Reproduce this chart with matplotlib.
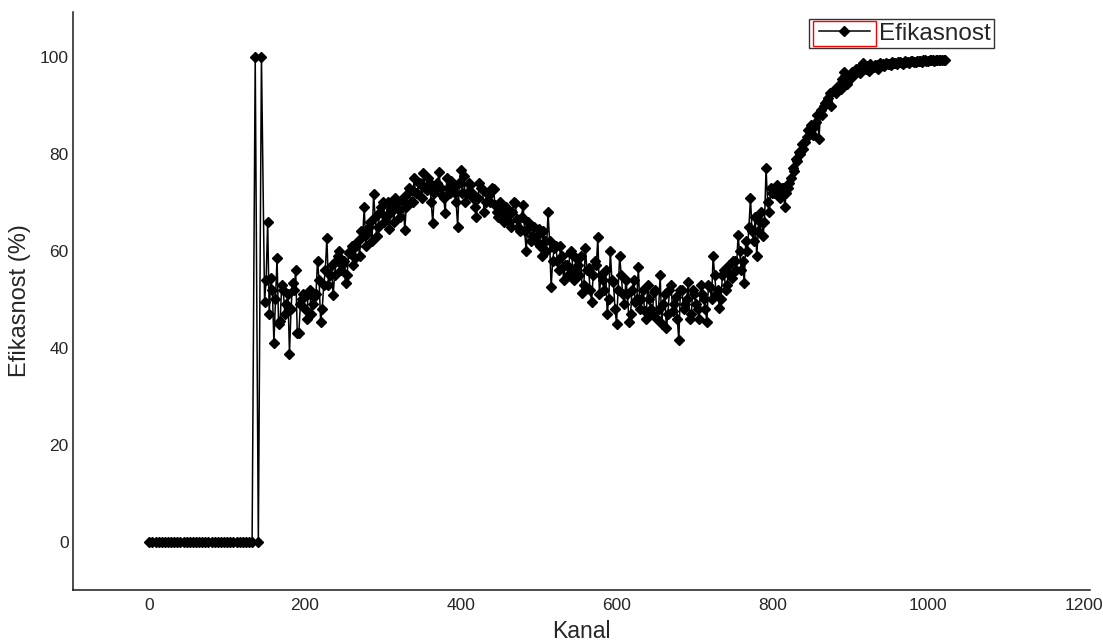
import numpy as np
import matplotlib
matplotlib.use("Agg")
import matplotlib.pyplot as plt
from matplotlib.patches import Rectangle
from matplotlib.legend_handler import HandlerLine2D

# ================================================================
# Daten
# ================================================================
# Messreihe A: Kanal 0, 4, 8, ... 1020
kanal_a = np.arange(0, 1024, 4)
efikasnost_a = [
    # 0 - 132
    0, 0, 0, 0, 0, 0, 0, 0, 0, 0, 0, 0, 0, 0, 0, 0, 0,
    0, 0, 0, 0, 0, 0, 0, 0, 0, 0, 0, 0, 0, 0, 0, 0, 0,
    # 136 - 196
    100, 0, 100, 49.5, 66, 54.5, 41, 58.5, 45.5, 52, 49, 38.8, 53.3, 56, 43, 50,
    # 200 - 260
    48, 51, 47, 50.5, 58, 45.3, 53, 62.7, 55, 50.8, 58, 60, 57, 53.3, 59.5, 61,
    # 264 - 324
    58.5, 62, 64, 69, 63.5, 66, 71.7, 63, 68, 70, 67, 64.5, 69, 71, 68.5, 70.5,
    # 328 - 388
    64.3, 72, 70, 75, 72, 74, 76, 72.5, 74, 65.7, 73, 76.2, 71.5, 67.8, 73, 74.5,
    # 392 - 452
    72, 64.9, 76.6, 75.5, 72, 73.5, 71, 67, 74, 72.5, 70, 71.5, 73, 69.5, 67, 68.5,
    # 456 - 516
    66, 67.5, 65, 70, 66.5, 64, 69.5, 60, 65, 63, 62, 64.5, 59, 62, 68, 52.5,
    # 520 - 580
    60.5, 58, 61, 54, 57, 59.5, 56, 58.5, 55, 51.2, 60.5, 56.5, 49.4, 58, 62.8, 55,
    # 584 - 644
    52, 47, 60, 53.5, 45, 59, 51, 54, 45.3, 52, 49.5, 56.6, 50, 47.5, 53, 48,
    # 648 - 708
    51.5, 46, 55, 49, 44, 52, 47.5, 50.5, 41.5, 52, 49, 53.5, 47, 51, 48, 53,
    # 712 - 772
    50, 45.3, 52.5, 59, 51, 48.3, 55, 52, 57, 54.3, 58, 63.2, 56, 53.3, 60, 71,
    # 776 - 836
    62, 58.9, 66, 63, 77, 68, 72, 73, 72.5, 73, 69, 73, 75, 76.5, 78.5, 80,
    # 840 - 900
    81, 83.5, 85, 84, 86.5, 83, 88, 90.5, 91.5, 90, 93, 94, 93.5, 97, 94.5, 95.5,
    # 904 - 964
    96.5, 97.5, 96.8, 98.8, 97.5, 97.2, 98, 98.3, 97.6, 98.4, 98.2, 98.6, 98.3, 98.8, 98.5, 98.9,
    # 968 - 1020
    98.6, 99, 98.7, 99.1, 98.9, 99.2, 99, 99.3, 99.1, 99.3, 99.2, 99.4, 99.3, 99.4,
]

# Messreihe B: Kanal 150, 154, ... 1022 (Zwischenkanaele)
kanal_b = np.arange(150, 1023, 4)
efikasnost_b = [
    # 150 - 210
    54, 47, 52, 50, 45, 53, 47, 51, 48, 52, 43, 49, 51, 46, 52, 49,
    # 214 - 274
    51, 54, 48, 56, 53, 57, 55, 59, 56, 58, 55, 60, 57, 61, 59, 63,
    # 278 - 338
    61, 65, 62, 67, 65, 69, 66, 70, 68, 66, 70, 67, 71, 69, 73, 70,
    # 342 - 402
    72, 74, 71, 73, 75, 70, 72, 74, 73, 71, 75, 72, 73, 70, 74, 72,
    # 406 - 466
    70, 74, 72, 69, 71, 73, 68, 72, 70, 72.7, 68, 70, 67, 69, 66, 68,
    # 470 - 530
    69.8, 65, 67, 64, 66, 62, 65, 63, 61, 64, 60, 62, 58, 61, 56, 59,
    # 534 - 594
    57, 55, 60, 54, 57, 59, 53, 56, 52, 55, 57, 51, 54, 56, 50, 54,
    # 598 - 658
    48, 52, 55, 49, 51, 47, 54, 50, 48, 52, 46, 50, 47, 52, 48, 45,
    # 662 - 722
    51, 47, 53, 49, 46, 52, 48, 50, 46, 52, 49, 46, 51, 48, 53, 50,
    # 726 - 786
    55, 52, 50, 56, 53, 55, 58, 56, 60, 58, 62, 65, 64, 67, 64, 68,
    # 790 - 850
    66, 70, 73, 72, 73.5, 71, 73, 72, 74, 77, 79, 80.5, 82, 82.5, 85, 86,
    # 854 - 914
    85.5, 88, 89, 90, 91, 92.5, 93, 92.5, 94, 95.5, 96, 96, 97, 96.5, 97.5, 98,
    # 918 - 978
    97.8, 98.2, 98.5, 98, 98.4, 98.7, 98.5, 98.8, 98.6, 98.9, 98.7, 99, 98.8, 99.1, 98.9, 99.2,
    # 982 - 1022
    99, 99.2, 99.1, 99.3, 99.2, 99.3, 99.3, 99.4, 99.3, 99.4, 99.4,
]

x_ticks = [0, 200, 400, 600, 800, 1000, 1200]
y_ticks = [0, 20, 40, 60, 80, 100]

TEXT_COLOR = "#262626"

# beide Reihen nach Kanal zusammenfuehren
kanal = np.concatenate([kanal_a, kanal_b])
efikasnost = np.concatenate([efikasnost_a, efikasnost_b])
order = np.argsort(kanal, kind="stable")
kanal = kanal[order]
efikasnost = efikasnost[order]

# ================================================================
# Plot
# ================================================================
plt.rcParams["font.family"] = ["Liberation Sans", "DejaVu Sans"]

fig = plt.figure(figsize=(11.03, 6.43), dpi=100)
ax = fig.add_axes([73 / 1103, 53 / 643, (1090 - 73) / 1103, (590 - 12) / 643])

(line,) = ax.plot(kanal, efikasnost, color="black", linewidth=1.1,
                  marker="D", markersize=5.4, markerfacecolor="black",
                  markeredgecolor="black", label="Efikasnost")

ax.set_xlim(-98, 1208)
ax.set_ylim(-10, 109.3)
ax.set_xticks(x_ticks)
ax.set_yticks(y_ticks)
ax.tick_params(axis="both", length=0, labelsize=12.5, colors=TEXT_COLOR)
ax.tick_params(axis="x", pad=6)
ax.tick_params(axis="y", pad=3)

for side in ["top", "right"]:
    ax.spines[side].set_visible(False)
for side in ["left", "bottom"]:
    ax.spines[side].set_color("#1a1a1a")
    ax.spines[side].set_linewidth(1.1)

ax.set_xlabel("Kanal", fontsize=16.5, color=TEXT_COLOR, labelpad=5)
ax.set_ylabel("Efikasnost (%)", fontsize=17, color=TEXT_COLOR, labelpad=6)

leg = ax.legend(loc="upper right", bbox_to_anchor=(0.906, 0.988), fontsize=17.5,
                frameon=True, fancybox=False, edgecolor="black",
                handlelength=2.36, handletextpad=0.37, borderpad=0.15,
                borderaxespad=0.0,
                handler_map={line: HandlerLine2D(xpad=0.26)})
leg.get_frame().set_linewidth(1.0)
for t in leg.get_texts():
    t.set_color(TEXT_COLOR)

# roter Rahmen um das Legenden-Symbol
fig.canvas.draw()
renderer = fig.canvas.get_renderer()
hb = leg.legend_handles[0].get_window_extent(renderer)
fb = leg.get_frame().get_window_extent(renderer)
inv = fig.transFigure.inverted()
(x0, y0), (x1, y1) = inv.transform([[hb.x0 - 2, fb.y0 + 2], [hb.x1 + 2, fb.y1 - 2]])
fig.patches.append(Rectangle((x0, y0), x1 - x0, y1 - y0, transform=fig.transFigure,
                             fill=False, edgecolor="red", linewidth=1.0))

fig.savefig("out.png", dpi=100)
